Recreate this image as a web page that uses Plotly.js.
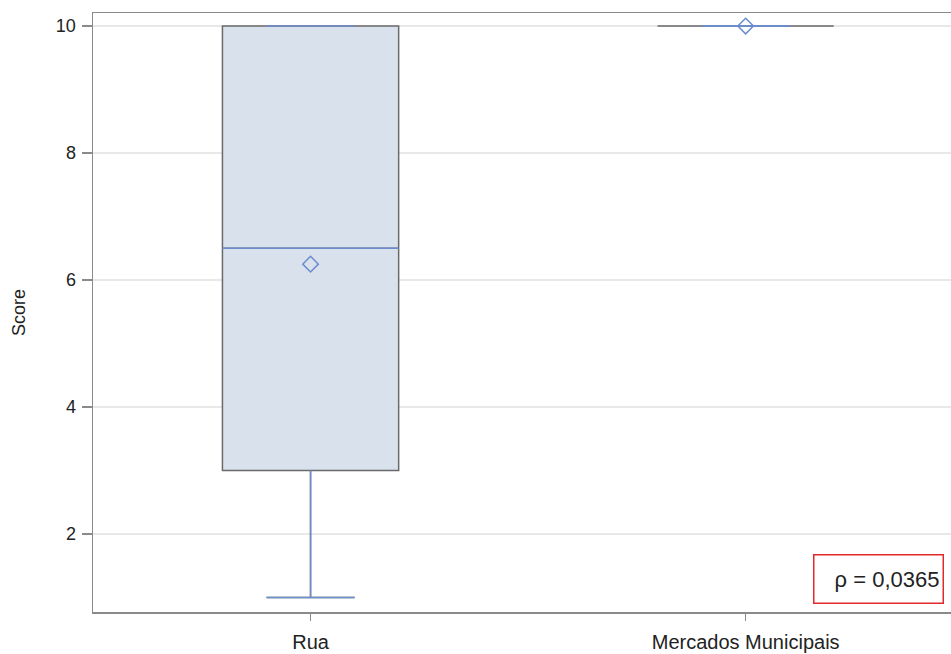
<!DOCTYPE html>
<html><head><meta charset="utf-8">
<script src="https://cdn.plot.ly/plotly-3.0.1.min.js"></script>
<style>html,body{margin:0;padding:0;background:#fff}#chart{width:951px;height:654px}</style>
</head><body><div id="chart"></div>
<script>
// Data
const categories = ["Rua", "Mercados Municipais"];
const q1 = [3, 10];
const median = [6.5, 10];
const q3 = [10, 10];
const lowerWhisker = [1, 10];
const upperWhisker = [10, 10];
const means = [6.25, 10];
const yTicks = [2, 4, 6, 8, 10];
const rhoText = "ρ = 0,0365";

const pos = categories.map((c, i) => i);
const BW = 0.405;          // box width (data units)
const CAP = BW / 2;        // whisker cap width
const BLUE = "#6b8ccf";
const GRAY = "#6a6a6a";
const FONT = "Liberation Sans, Arial, sans-serif";

const traces = [];
traces.push({
  type: "box", x: pos, q1: q1, median: median, q3: q3,
  lowerfence: lowerWhisker, upperfence: upperWhisker,
  width: BW, whiskerwidth: 0.5,
  fillcolor: "#d9e1ec", line: {color: GRAY, width: 1.5},
  hoverinfo: "skip", showlegend: false
});
// blue median and whiskers drawn over the gray outline
const wx = [], wy = [];
pos.forEach((p, i) => {
  wx.push(p, p, null, p - CAP / 2, p + CAP / 2, null);
  wy.push(q1[i], lowerWhisker[i], null, lowerWhisker[i], lowerWhisker[i], null);
  wx.push(p, p, null, p - CAP / 2, p + CAP / 2, null);
  wy.push(q3[i], upperWhisker[i], null, upperWhisker[i], upperWhisker[i], null);
});
traces.push({type: "scatter", mode: "lines", x: wx, y: wy, connectgaps: false,
  line: {color: BLUE, width: 1.5}, hoverinfo: "skip", showlegend: false});
const mx = [], my = [];
pos.forEach((p, i) => {
  if (q1[i] !== q3[i]) { mx.push(p - BW / 2, p + BW / 2, null); my.push(median[i], median[i], null); }
});
traces.push({type: "scatter", mode: "lines", x: mx, y: my, connectgaps: false,
  line: {color: BLUE, width: 1.5}, hoverinfo: "skip", showlegend: false});
traces.push({type: "scatter", mode: "markers", x: pos, y: means,
  marker: {symbol: "diamond-open", size: 12, color: BLUE, line: {width: 1.5, color: BLUE}},
  hoverinfo: "skip", showlegend: false});

const layout = {
  width: 951, height: 654,
  margin: {l: 93, r: 0, t: 13, b: 42},
  paper_bgcolor: "#fff", plot_bgcolor: "#fff",
  font: {family: FONT, color: "#222", size: 18},
  showlegend: false,
  xaxis: {
    range: [-0.5, 1.472], tickvals: pos, ticktext: categories,
    showline: true, linecolor: "#8a8a8a", linewidth: 1.5, mirror: true,
    ticks: "outside", ticklen: 7, tickcolor: "#8a8a8a", tickwidth: 1.5,
    showgrid: false, zeroline: false, ticklabelstandoff: 4,
    tickfont: {size: 20, family: FONT, color: "#222"}
  },
  yaxis: {
    range: [0.772, 10.205], tickvals: yTicks, ticktext: yTicks.map(String),
    showline: true, linecolor: "#8a8a8a", linewidth: 1.5,
    ticks: "outside", ticklen: 10, tickcolor: "#8a8a8a", tickwidth: 1.5,
    showgrid: true, gridcolor: "#e8e8e8", gridwidth: 1.5, zeroline: false,
    ticklabelstandoff: 2,
    tickfont: {size: 18, family: FONT, color: "#222"},
    title: {text: "Score", font: {size: 18, family: FONT, color: "#222"}, standoff: 25}
  },
  annotations: [{
    xref: "paper", yref: "paper", x: 0.9918, y: 0.0134,
    xanchor: "right", yanchor: "bottom",
    text: rhoText, showarrow: false, align: "right",
    width: 122, height: 41, borderpad: 3,
    bordercolor: "#e0282d", borderwidth: 1.5, bgcolor: "#fff",
    font: {size: 22, family: FONT, color: "#222"}
  }]
};
Plotly.newPlot("chart", traces, layout, {displayModeBar: false, staticPlot: true});
</script></body></html>
